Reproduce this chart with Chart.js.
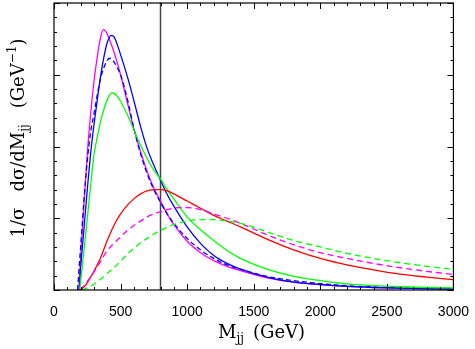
<!DOCTYPE html>
<html><head><meta charset="utf-8">
<script src="https://cdn.jsdelivr.net/npm/chart.js@4"></script>
<style>html,body{margin:0;padding:0;background:#fff}</style>
</head><body>
<canvas id="c" width="475" height="349"></canvas>
<script>
// ---- data ----
const xTicks = [0, 500, 1000, 1500, 2000, 2500, 3000];
const cutX = 800;

const magentaSolidX = [185,200,225,250,275,300,325,350,370,390,425,450,500,550,600,650,700,750,800,850,900,1000,1100,1200,1300,1400,1600,1800,2000,2200,2400,2600,2800,3000];
const magentaSolidY = [0,0.45,1.2,1.9,2.45,2.9,3.25,3.52,3.63,3.6,3.45,3.32,3.0,2.62,2.25,1.93,1.65,1.42,1.24,1.06,0.91,0.68,0.52,0.41,0.33,0.27,0.17,0.11,0.075,0.05,0.035,0.025,0.018,0.012];

const blueSolidX = [190,200,225,250,275,300,325,350,375,400,430,450,475,500,550,600,650,700,750,800,850,900,1000,1100,1200,1300,1400,1600,1800,2000,2200,2400,2600,2800,3000];
const blueSolidY = [0,0.3,0.85,1.4,1.9,2.3,2.65,2.98,3.25,3.45,3.55,3.53,3.42,3.28,2.98,2.64,2.28,1.97,1.74,1.53,1.33,1.17,0.88,0.65,0.48,0.37,0.29,0.18,0.11,0.075,0.05,0.035,0.025,0.018,0.012];

const blueDashX = [177,200,225,250,275,300,325,350,375,400,420,450,475,500,550,600,650,700,750,800,850,900,1000,1100,1200,1300,1400,1600,1800,2000,2200,2400,2600,2800,3000];
const blueDashY = [0,0.6,1.25,1.8,2.2,2.45,2.72,2.95,3.1,3.2,3.23,3.18,3.1,3.0,2.67,2.25,1.9,1.62,1.4,1.22,1.06,0.93,0.72,0.56,0.44,0.35,0.29,0.19,0.13,0.09,0.06,0.042,0.03,0.022,0.016];

const greenSolidX = [192,200,225,250,275,300,325,350,375,400,435,450,475,500,550,600,650,700,750,800,850,900,1000,1100,1200,1300,1400,1600,1800,2000,2200,2400,2600,2800,3000];
const greenSolidY = [0,0.12,0.55,1.0,1.45,1.88,2.13,2.35,2.52,2.65,2.75,2.74,2.7,2.63,2.45,2.23,2.02,1.83,1.67,1.55,1.4,1.27,1.02,0.84,0.69,0.55,0.44,0.29,0.19,0.13,0.085,0.06,0.045,0.035,0.03];

const redSolidX = [194,225,250,275,300,325,350,375,400,450,500,550,600,650,700,750,800,850,900,1000,1100,1200,1300,1400,1600,1800,2000,2200,2400,2600,2800,3000];
const redSolidY = [0,0.04,0.1,0.18,0.26,0.35,0.45,0.57,0.69,0.9,1.06,1.18,1.27,1.34,1.38,1.40,1.40,1.38,1.34,1.24,1.14,1.04,0.96,0.88,0.71,0.56,0.44,0.35,0.28,0.22,0.18,0.145];

const magentaDashX = [200,225,250,300,350,400,450,500,550,600,650,700,750,800,850,900,950,1000,1100,1200,1300,1400,1600,1800,2000,2200,2400,2600,2800,3000];
const magentaDashY = [0,0.06,0.12,0.25,0.4,0.55,0.65,0.74,0.83,0.9,0.96,1.02,1.06,1.09,1.12,1.14,1.15,1.15,1.12,1.06,1.0,0.93,0.77,0.63,0.52,0.44,0.37,0.31,0.26,0.215];

const greenDashX = [210,250,300,350,400,450,500,550,600,650,700,750,800,900,1000,1100,1200,1300,1400,1600,1800,2000,2200,2400,2600,2800,3000];
const greenDashY = [0,0.03,0.08,0.15,0.23,0.31,0.4,0.5,0.58,0.66,0.72,0.78,0.83,0.91,0.96,0.98,0.98,0.96,0.93,0.81,0.69,0.6,0.51,0.44,0.38,0.33,0.29];

// ---- build ----
const pts = (xs, ys) => xs.map((x, i) => ({x, y: ys[i]}));
const line = (xs, ys, color, dash) => ({
  data: pts(xs, ys), borderColor: color, borderWidth: 1.3, borderDash: dash || [],
  pointRadius: 0, fill: false, cubicInterpolationMode: 'monotone'
});

const datasets = [
  line(greenDashX, greenDashY, '#00ff00', [6,4]),
  line(magentaDashX, magentaDashY, '#ff00ff', [6,4]),
  line(redSolidX, redSolidY, '#ff0000'),
  line(greenSolidX, greenSolidY, '#00ff00'),
  line(blueDashX, blueDashY, '#0000ff', [5,3]),
  line(blueSolidX, blueSolidY, '#0000ff'),
  line(magentaSolidX, magentaSolidY, '#ff00ff'),
  {data: [{x: cutX, y: 0}, {x: cutX, y: 4}], borderColor: '#444', borderWidth: 1.5, pointRadius: 0, fill: false}
];

const framePlugin = {
  id: 'frame',
  afterDatasetsDraw(chart) {
    const {ctx, chartArea: a, scales: {x, y}} = chart;
    ctx.save();
    ctx.strokeStyle = '#000';
    ctx.lineWidth = 1;
    ctx.beginPath();
    for (let v = 0; v <= 3000; v += 100) {
      const px = Math.round(x.getPixelForValue(v)) + 0.5;
      const len = v % 500 === 0 ? 6 : 3;
      ctx.moveTo(px, a.bottom); ctx.lineTo(px, a.bottom - len);
      ctx.moveTo(px, a.top); ctx.lineTo(px, a.top + len);
    }
    for (let k = 0; k <= 20; k++) {
      const v = k * 0.2;
      const py = Math.round(y.getPixelForValue(v)) + 0.5;
      const len = k % 5 === 0 ? 6 : 3;
      ctx.moveTo(a.left, py); ctx.lineTo(a.left + len, py);
      ctx.moveTo(a.right, py); ctx.lineTo(a.right - len, py);
    }
    ctx.stroke();
    ctx.lineWidth = 1.2;
    ctx.strokeRect(a.left, a.top, a.right - a.left, a.bottom - a.top);

    // axis titles
    ctx.fillStyle = '#000';
    ctx.textBaseline = 'alphabetic';
    ctx.textAlign = 'left';
    const big = '18px "DejaVu Serif"', small = '12px "DejaVu Serif"';
    // x title
    let cx = 218;
    ctx.font = big; ctx.fillText('M', cx, 338); cx += ctx.measureText('M').width;
    ctx.font = small; ctx.fillText('jj', cx, 342);
    ctx.font = big; ctx.fillText('(GeV)', 253, 338);

    // y title
    const parts = [
      {t: '1/σ', f: big, dy: 0, gap: 16},
      {t: 'dσ/dM', f: big, dy: 0, gap: 0},
      {t: 'jj', f: small, dy: 4, gap: 16},
      {t: '(GeV', f: big, dy: 0, gap: 0},
      {t: '−1', f: small, dy: -8, gap: 0},
      {t: ')', f: big, dy: 0, gap: 0}
    ];
    let total = 0;
    parts.forEach(p => { ctx.font = p.f; p.w = ctx.measureText(p.t).width; total += p.w + p.gap; });
    ctx.translate(24, 138);
    ctx.rotate(-Math.PI / 2);
    let px = -total / 2;
    parts.forEach(p => { ctx.font = p.f; ctx.fillText(p.t, px, p.dy); px += p.w + p.gap; });
    ctx.restore();
  }
};

new Chart(document.getElementById('c'), {
  type: 'line',
  data: {datasets},
  options: {
    responsive: false, animation: false, devicePixelRatio: 1,
    layout: {padding: {left: 0, right: 20, top: 3, bottom: 0}},
    plugins: {legend: {display: false}, tooltip: {enabled: false}},
    scales: {
      x: {
        type: 'linear', min: 0, max: 3000,
        grid: {display: false}, border: {display: false},
        afterBuildTicks: s => { s.ticks = xTicks.map(v => ({value: v})); },
        ticks: {font: {family: 'Liberation Sans', size: 14}, color: '#000', padding: 6, maxRotation: 0, autoSkip: false,
                callback: v => String(v)},
        afterFit: s => { s.height = 59; }
      },
      y: {
        type: 'linear', min: 0, max: 4,
        grid: {display: false}, border: {display: false},
        ticks: {display: false},
        afterFit: s => { s.width = 54; }
      }
    }
  },
  plugins: [framePlugin]
});
</script></body></html>
